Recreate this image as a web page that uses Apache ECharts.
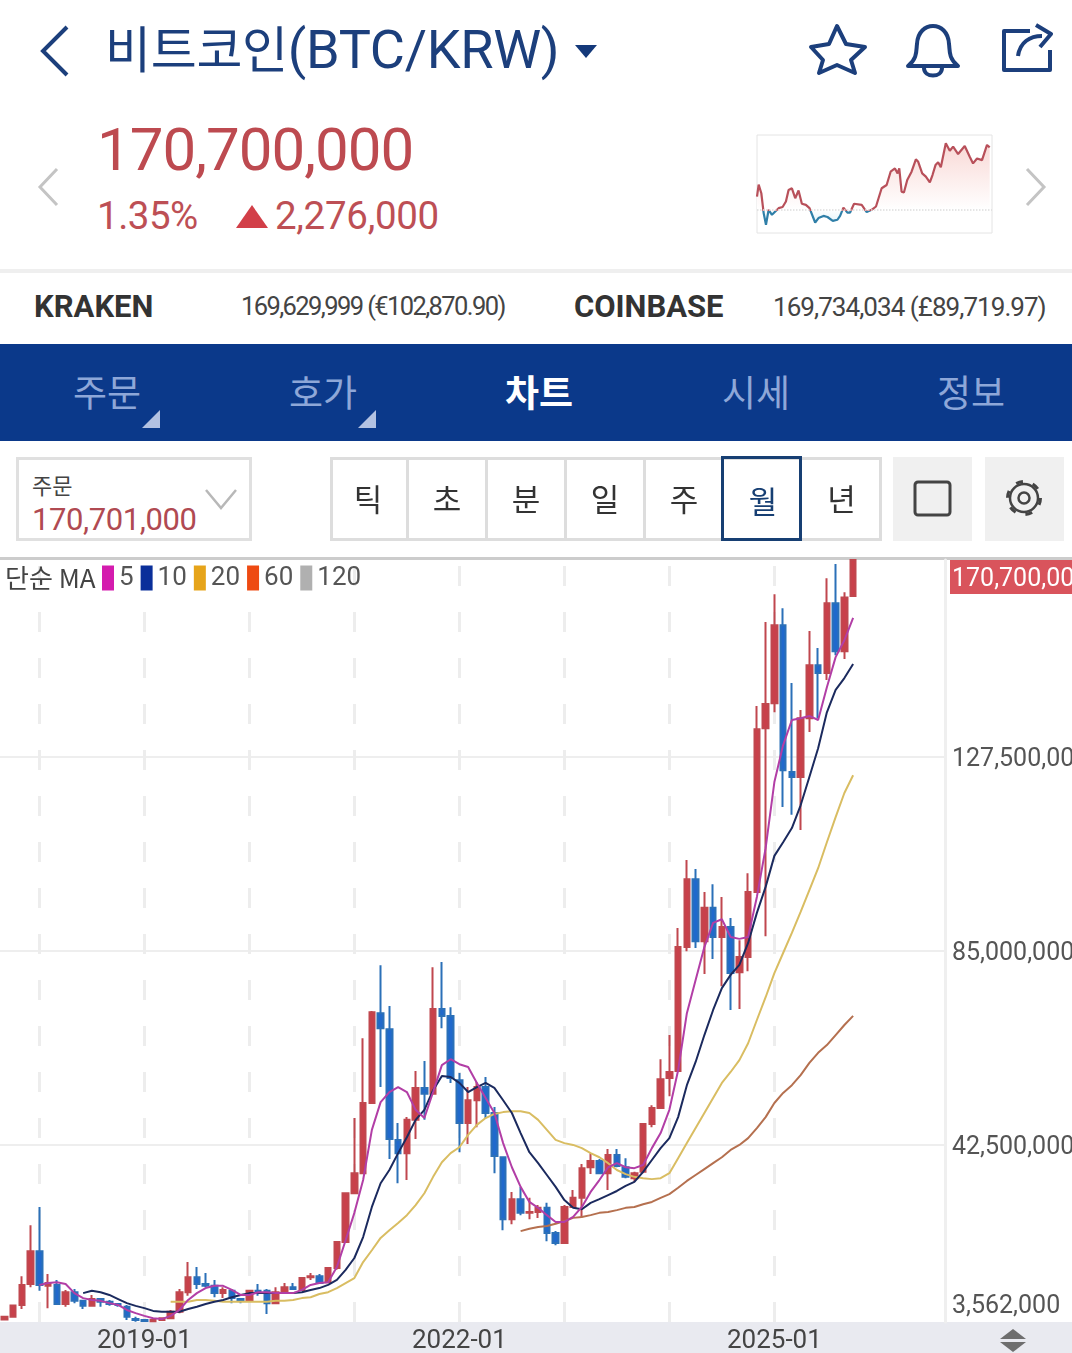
<!DOCTYPE html>
<html>
<head>
<meta charset="utf-8">
<script src="https://cdn.jsdelivr.net/npm/echarts@6/dist/echarts.min.js"></script>
<style>
html,body{margin:0;padding:0;background:#fff;}
body{position:relative;width:1072px;height:1353px;overflow:hidden;font-family:Roboto,"Noto Sans CJK KR",sans-serif;}
.t{position:absolute;white-space:nowrap;line-height:1;}
.box{position:absolute;box-sizing:border-box;}
svg{position:absolute;overflow:visible;}
.tab{position:absolute;top:373px;width:120px;text-align:center;font-size:37px;line-height:1;color:#8ea7d8;font-family:"Noto Sans CJK KR",sans-serif;}
.btn{position:absolute;top:458px;height:82px;box-sizing:border-box;border-right:3px solid #ddd;text-align:center;font-size:31px;line-height:80px;color:#333;font-family:"Noto Sans CJK KR",sans-serif;}
</style>
</head>
<body>
<!-- 상단 헤더 -->
<svg style="left:0;top:0" width="1072" height="270">
  <polyline points="67,27 43,51 67,75" fill="none" stroke="#1c3f7c" stroke-width="4"/>
  <polygon points="575,45 597,45 586,58" fill="#14397a"/>
  <polygon points="837,26 846,44 865,47 851,60 855,73 837,65 819,73 823,60 811,47 829,44" fill="none" stroke="#1c3f7c" stroke-width="4" stroke-linejoin="round"/>
  <path d="M908,66 C918,58 916,50 917,44 C918,20 948,20 949,44 C950,50 948,58 958,66 Z M924,68 C924,78 942,78 942,68" fill="none" stroke="#1c3f7c" stroke-width="4" stroke-linejoin="round"/>
  <path d="M1030,31 L1004,31 L1004,70 L1050,70 L1050,50 M1018,56 C1020,42 1030,36 1042,36 M1036,25 L1051,34 L1040,47" fill="none" stroke="#1c3f7c" stroke-width="4" stroke-linejoin="round"/>
  <polyline points="57,169 40,187 57,205" fill="none" stroke="#c4c4c4" stroke-width="3"/>
  <polyline points="1027,169 1044,187 1027,205" fill="none" stroke="#c4c4c4" stroke-width="3"/>
  <polygon points="236,228 252,205 268,228" fill="#d23f48"/>
</svg>
<div class="t" style="left:105px;top:23px;font-size:50px;color:#1c3f7c;letter-spacing:-.3px;font-family:Roboto,'Noto Sans CJK KR',sans-serif">비트코인<span style="font-size:54px">(BTC/KRW)</span></div>
<div class="t" style="left:97px;top:120px;font-size:60px;color:#bd4a50;letter-spacing:-1px">170,700,000</div>
<div class="t" style="left:97px;top:197px;font-size:38.5px;color:#bd4f55;letter-spacing:-.5px">1.35%</div>
<div class="t" style="left:275px;top:197px;font-size:38.5px;color:#bd4f55;letter-spacing:-.3px">2,276,000</div>
<div id="spark" style="position:absolute;left:750px;top:130px;width:250px;height:110px"></div>

<div class="box" style="left:0;top:269px;width:1072px;height:4px;background:#efefef"></div>
<div class="t" style="left:34px;top:291px;font-size:31px;font-weight:700;color:#333;letter-spacing:0">KRAKEN</div>
<div class="t" style="left:241px;top:294px;font-size:25.5px;color:#444;letter-spacing:-1.6px">169,629,999 (€102,870.90)</div>
<div class="t" style="left:574px;top:291px;font-size:31px;font-weight:700;color:#333;letter-spacing:-.05px">COINBASE</div>
<div class="t" style="left:773px;top:294px;font-size:26px;color:#444;letter-spacing:-.95px">169,734,034 (£89,719.97)</div>

<!-- 탭 -->
<div class="box" style="left:0;top:344px;width:1072px;height:97px;background:#0b398a"></div>
<div class="tab" style="left:47px">주문</div>
<div class="tab" style="left:263px">호가</div>
<div class="tab" style="left:479px;color:#fff;font-weight:700">차트</div>
<div class="tab" style="left:696px">시세</div>
<div class="tab" style="left:911px">정보</div>
<svg style="left:0;top:0" width="1072" height="441">
  <polygon points="142,428 160,428 160,410" fill="#b3c2e2"/>
  <polygon points="358,428 376,428 376,410" fill="#b3c2e2"/>
</svg>

<!-- 주문 선택, 기간 버튼 -->
<div class="box" style="left:16px;top:457px;width:236px;height:84px;border:3px solid #e0e0e0"></div>
<div class="t" style="left:32px;top:473px;font-size:22px;color:#444;font-family:'Noto Sans CJK KR',sans-serif">주문</div>
<div class="t" style="left:32px;top:504px;font-size:31px;color:#b04a52;letter-spacing:-.4px">170,701,000</div>
<svg style="left:0;top:0" width="260" height="540"><polyline points="206,490 221,508 236,490" fill="none" stroke="#b8b8b8" stroke-width="2.5"/></svg>

<div class="box" style="left:330px;top:457px;width:552px;height:84px;border:3px solid #ddd"></div>
<div class="btn" style="left:330px;width:79px">틱</div>
<div class="btn" style="left:409px;width:79px">초</div>
<div class="btn" style="left:488px;width:79px">분</div>
<div class="btn" style="left:567px;width:79px">일</div>
<div class="btn" style="left:646px;width:76px;border-right:none">주</div>
<div class="box" style="left:721px;top:456px;width:81px;height:85px;border:3px solid #173f73;padding-left:3px;text-align:center;font-size:31px;line-height:82px;color:#173f73;font-family:'Noto Sans CJK KR',sans-serif">월</div>
<div class="btn" style="left:802px;width:79px;border-right:none">년</div>
<div class="box" style="left:893px;top:457px;width:79px;height:84px;background:#f0f0f0"></div>
<div class="box" style="left:985px;top:457px;width:79px;height:84px;background:#f0f0f0"></div>
<svg style="left:0;top:0" width="1072" height="540">
  <rect x="915" y="482" width="35" height="33" rx="3" fill="none" stroke="#444" stroke-width="3"/>
  <circle cx="1024" cy="498" r="5.5" fill="none" stroke="#444" stroke-width="2.5"/>
  <circle cx="1024" cy="498" r="14" fill="none" stroke="#444" stroke-width="2.5"/>
  <circle cx="1024" cy="498" r="16.5" fill="none" stroke="#444" stroke-width="3" stroke-dasharray="7 10.28"/>
</svg>

<!-- 차트 -->
<div class="box" style="left:0;top:557px;width:1072px;height:3px;background:#ccc"></div>
<div class="box" style="left:0;top:1322px;width:1072px;height:31px;background:#e9eaf0"></div>
<div id="main" style="position:absolute;left:0;top:558px;width:1072px;height:795px"></div>
<svg style="left:0;top:0" width="1072" height="1353">
  <polygon points="1000,1339 1013,1329 1026,1339" fill="#6e6e6e"/>
  <polygon points="1000,1342 1013,1352 1026,1342" fill="#6e6e6e"/>
</svg>

<script type="text/javascript">
//월봉 카테고리 (2017-09 ~ 빈 구간 포함)
var months = [
  "2017-09","2017-10","2017-11","2017-12",
  "2018-01","2018-02","2018-03","2018-04","2018-05","2018-06","2018-07","2018-08","2018-09","2018-10","2018-11","2018-12",
  "2019-01","2019-02","2019-03","2019-04","2019-05","2019-06","2019-07","2019-08","2019-09","2019-10","2019-11","2019-12",
  "2020-01","2020-02","2020-03","2020-04","2020-05","2020-06","2020-07","2020-08","2020-09","2020-10","2020-11","2020-12",
  "2021-01","2021-02","2021-03","2021-04","2021-05","2021-06","2021-07","2021-08","2021-09","2021-10","2021-11","2021-12",
  "2022-01","2022-02","2022-03","2022-04","2022-05","2022-06","2022-07","2022-08","2022-09","2022-10","2022-11","2022-12",
  "2023-01","2023-02","2023-03","2023-04","2023-05","2023-06","2023-07","2023-08","2023-09","2023-10","2023-11","2023-12",
  "2024-01","2024-02","2024-03","2024-04","2024-05","2024-06","2024-07","2024-08","2024-09","2024-10","2024-11","2024-12",
  "2025-01","2025-02","2025-03","2025-04","2025-05","2025-06","2025-07","2025-08","2025-09","2025-10","2025-11","2025-12",
  "2026-01","2026-02","2026-03","2026-04","2026-05","2026-06","2026-07","2026-08"
];
var yearLabels = ["2019-01","2022-01","2025-01"];
var gridYears = ["2018-01","2019-01","2020-01","2021-01","2022-01","2023-01","2024-01","2025-01"];

//시가, 종가, 저가, 고가 (백만원)
var opens = [4.1,4.7,7.3,11.9,19.1,11.5,11.7,7.5,10.1,8.2,7.1,8.6,8.0,7.5,6.9,4.2,4.0,3.7,4.0,4.4,5.8,10.1,13.4,11.9,11.5,9.9,10.4,8.6,8.2,10.4,10.4,7.7,10.1,11.2,10.6,13.4,13.6,12.3,15.4,21.1,31.8,36.2,51.6,71.3,67.8,43.5,40.6,47.9,54.9,53.6,72.2,70.7,56.6,47.2,52.2,55.1,49.4,39.7,26.1,30.5,27.5,27.7,28.6,23.1,20.9,28.8,30.8,37.5,38.9,36.2,40.2,37.5,35.1,36.5,47.0,50.5,57.1,58.6,85.8,100.7,87.1,94.4,88.0,90.2,80.3,83.6,97.9,133.8,139.3,156.4,124.2,123.1,136.0,147.6,145.9,161.2,150.7,162.8];
var closes = [4.7,7.2,11.7,19.1,11.7,12.1,7.5,10.1,8.2,7.1,8.6,8.0,7.5,7.3,4.7,4.0,3.8,4.0,4.4,5.8,10.1,13.4,11.9,11.5,9.9,10.6,8.8,8.2,10.4,9.9,7.7,10.1,11.2,10.8,13.2,13.6,12.1,15.4,21.1,31.8,36.2,51.6,71.5,68.0,43.7,40.6,47.9,54.9,53.6,72.2,70.7,57.1,47.2,52.2,55.1,49.4,40.0,26.1,30.5,27.5,27.7,28.6,23.1,20.9,28.8,30.8,37.3,38.9,36.2,40.2,37.8,35.4,36.2,47.0,50.5,56.8,58.4,85.8,100.7,87.1,94.4,88.0,90.2,80.1,83.6,97.9,133.6,139.1,156.4,124.6,123.1,136.0,147.6,145.9,161.2,150.7,162.5,170.7];
var lows = [4.1,4.7,6.4,11.2,10.4,6.6,7.3,6.9,7.7,6.4,6.9,6.9,7.1,6.9,4.0,3.6,3.6,3.6,3.8,4.2,5.5,9.3,10.8,11.2,9.0,8.8,7.7,7.7,8.0,9.3,5.3,7.5,9.9,10.6,10.4,12.8,11.9,12.1,15.0,20.9,31.6,36.2,51.6,55.1,39.3,34.0,34.7,43.7,47.9,53.6,68.0,56.0,40.8,42.6,46.3,48.3,36.2,23.7,25.0,27.0,26.1,26.4,21.3,20.4,20.7,28.6,26.6,36.0,36.0,32.5,37.5,35.1,34.3,36.2,46.3,50.5,53.1,58.4,84.9,85.6,79.9,83.2,77.2,72.0,72.2,80.5,97.7,88.2,137.3,116.5,114.8,111.5,133.0,136.0,144.4,149.8,149.0,162.8];
var highs = [4.7,7.2,13.6,24.8,28.8,14.1,12.8,10.6,10.8,8.4,9.5,8.8,8.4,7.7,7.3,4.7,4.2,4.1,4.6,6.2,10.8,16.7,15.6,14.3,12.8,11.2,10.8,8.8,10.6,11.9,10.8,11.2,12.1,12.1,13.4,14.3,14.1,15.6,21.3,32.0,48.3,65.8,71.8,81.8,72.9,47.2,48.5,58.6,60.8,81.4,82.5,72.6,58.2,55.1,56.2,57.3,50.7,39.9,32.1,33.2,30.8,29.2,29.7,23.5,29.2,32.5,38.2,40.6,39.3,41.5,41.5,39.5,36.5,47.2,51.1,61.2,66.5,90.0,104.9,102.9,97.9,99.6,96.8,92.2,87.3,102.0,138.7,157.1,163.2,160.1,143.7,137.8,155.1,151.4,166.7,169.8,163.6,170.7];

//이동평균 (앞쪽 빈 값은 null)
var ma5 = [null,null,null,null,11.7,12.1,12.3,11.9,9.9,8.8,8.4,8.2,7.7,7.3,6.2,5.5,4.9,4.4,4.2,4.9,6.2,8.4,9.9,11.0,11.5,11.5,10.6,9.5,9.5,10.1,10.1,9.9,9.9,9.9,10.6,11.7,12.1,12.3,15.6,21.5,27.5,34.7,45.7,51.8,54.0,55.1,54.0,50.1,48.3,54.0,59.9,61.2,60.1,59.5,56.0,52.7,49.4,42.8,37.5,33.2,29.9,28.6,27.0,25.5,25.5,26.6,28.8,32.1,34.7,37.5,38.4,37.5,37.3,38.0,41.7,45.0,50.1,58.8,71.3,78.6,85.8,91.1,91.9,88.0,87.6,88.0,96.8,107.5,122.0,130.1,135.6,136.0,136.5,135.6,142.8,149.4,153.1,158.0];
var ma10 = [null,null,null,null,null,null,null,null,null,9.9,10.4,10.1,9.5,8.6,7.7,7.1,6.6,6.0,5.8,5.8,5.8,6.4,6.9,7.5,8.0,8.4,9.0,9.5,9.9,9.9,9.9,9.9,9.9,9.9,10.1,10.6,11.0,11.7,12.8,15.0,17.6,22.2,28.8,34.0,36.9,40.6,44.1,47.9,50.1,54.4,57.5,57.3,56.0,54.0,55.1,56.0,54.9,52.2,49.4,45.0,40.8,38.4,35.8,33.2,30.3,28.6,28.3,29.7,30.5,31.4,32.3,33.4,34.3,36.5,39.1,41.7,43.9,48.5,55.5,60.6,66.5,72.0,76.8,79.7,81.9,86.7,93.3,99.0,105.8,108.8,111.9,116.9,123.1,129.4,137.3,142.2,144.8,147.9];
var ma20 = [null,null,null,null,null,null,null,null,null,null,null,null,null,null,null,null,null,null,null,8.0,8.0,8.0,8.4,8.4,8.2,8.0,8.0,8.0,8.0,8.0,8.0,8.2,8.2,8.4,8.8,9.0,9.7,10.1,11.0,12.1,13.2,16.7,19.3,22.0,23.7,25.3,27.0,29.2,31.8,35.4,38.6,40.6,41.9,44.6,46.8,48.3,49.2,49.6,49.8,49.8,49.4,47.9,45.7,43.5,42.8,42.4,41.7,40.6,39.7,38.4,36.9,36.0,35.4,35.1,34.9,35.1,36.2,39.5,42.8,46.1,49.4,52.7,56.0,58.4,61.0,64.7,69.8,74.8,80.1,84.5,88.9,93.5,98.3,103.1,108.8,114.3,119.6,123.5];
var ma60 = [null,null,null,null,null,null,null,null,null,null,null,null,null,null,null,null,null,null,null,null,null,null,null,null,null,null,null,null,null,null,null,null,null,null,null,null,null,null,null,null,null,null,null,null,null,null,null,null,null,null,null,null,null,null,null,null,null,null,null,23.5,24.0,24.4,24.6,25.1,25.7,26.4,26.6,27.0,27.5,27.7,28.1,28.6,28.8,29.4,29.9,30.8,31.6,33.0,34.5,35.8,37.1,38.4,39.7,41.3,42.4,43.9,46.1,48.5,51.6,53.8,55.5,57.7,60.4,62.6,64.3,66.5,68.7,70.7];

//축 눈금
var tickValues = [3.562,42.5,85,127.5,170.7];
var tickLabels = ["3,562,000","42,500,000","85,000,000","127,500,000","170,700,000"];

//미니 차트 (시간 순번, 가격 백만원)
var sparkTimes = [0,5,13,20,27,35,45,55,65,77,87,95,105,115,125,135,147,158,175,185,200,212,228,242,250,260,272,280,292,315,330,345,358,375,390,402,415,423,428,435,442,452,465,478,485,497,508,520,528,537,545,553,568,580,590,605,625,640,650,662,677,692,700];
var sparkPrices = [168.90,169.33,169.02,168.30,167.88,168.42,168.24,168.36,168.48,168.52,168.72,169.14,169.20,168.84,169.12,168.64,168.60,168.48,167.96,168.12,168.20,168.16,168.02,168.06,168.20,168.50,168.32,168.32,168.64,168.60,168.34,168.42,168.54,169.20,169.32,169.80,169.92,169.74,169.92,169.08,169.05,169.50,169.80,170.25,170.16,169.74,169.62,169.41,169.68,170.04,170.14,169.96,170.83,170.56,170.71,170.44,170.73,170.34,170.10,170.28,170.22,170.77,170.68];
var prevClose = 168.424;

var candleData = [];
for (var i = 0; i < opens.length; i++) {
	candleData.push([opens[i], closes[i], lows[i], highs[i]]);
}

function maSeries(name, data, color) {
	return {
		name: name, type: 'line', data: data, color: color,
		symbol: 'none', connectNulls: false, silent: true, z: 5,
		lineStyle: { color: color, width: 2 }
	};
}

var mainChart = echarts.init(document.getElementById('main'));
mainChart.setOption({
	animation: false,
	title: {
		text: '단순 MA', left: 5, top: 7, padding: 0,
		textStyle: { fontFamily: "'Noto Sans CJK KR',Roboto,sans-serif", fontSize: 26, fontWeight: 'normal', color: '#444' }
	},
	legend: {
		left: 102, top: 7, padding: 0, icon: 'rect', itemWidth: 12, itemHeight: 25, itemGap: 7,
		selectedMode: false,
		textStyle: { fontFamily: 'Roboto,sans-serif', fontSize: 26, color: '#555', padding: [5, 0, 0, 0] },
		data: [
			{ name: '5', itemStyle: { color: '#d41cae' } },
			{ name: '10', itemStyle: { color: '#0a2f9a' } },
			{ name: '20', itemStyle: { color: '#e6a41a' } },
			{ name: '60', itemStyle: { color: '#ee4a12' } },
			{ name: '120', itemStyle: { color: '#b0b0b0' } }
		]
	},
	grid: { left: 0, right: 127, top: 2, bottom: 31, outerBoundsMode: 'none' },
	xAxis: {
		type: 'category', data: months, boundaryGap: true,
		axisLine: { show: false }, axisTick: { show: false },
		axisLabel: {
			interval: function (idx, val) { return yearLabels.indexOf(val) >= 0; },
			fontFamily: 'Roboto,sans-serif', fontSize: 26, color: '#444', margin: 6
		},
		splitLine: { show: false }
	},
	yAxis: {
		type: 'value', position: 'right', min: tickValues[0], max: tickValues[4], scale: true,
		axisLine: { show: true, lineStyle: { color: '#efefef', width: 3 } },
		axisTick: { show: false, customValues: tickValues },
		splitLine: { show: true, showMinLine: false, showMaxLine: false, lineStyle: { color: '#eeeeee', width: 2 } },
		axisLabel: {
			customValues: tickValues,
			margin: 5,
			verticalAlignMinLabel: 'bottom',
			verticalAlignMaxLabel: 'top',
			fontFamily: 'Roboto,sans-serif', fontSize: 25, color: '#555',
			formatter: function (v) {
				var s = tickLabels[tickValues.indexOf(v)];
				if (v === tickValues[4]) return '{tag|' + s + '}';
				if (v === tickValues[0]) return '{low|' + s + '}';
				return '{mid|' + s + '}';
			},
			rich: {
				tag: { backgroundColor: '#d9545c', color: '#fff', fontSize: 25, fontFamily: 'Roboto,sans-serif', padding: [7, 10, 2, 2] },
				mid: { color: '#555', fontSize: 25, fontFamily: 'Roboto,sans-serif', padding: [6, 0, 0, 2] },
				low: { color: '#555', fontSize: 25, fontFamily: 'Roboto,sans-serif', padding: [0, 0, 3, 2] }
			}
		}
	},
	series: [
		{
			type: 'candlestick', name: 'BTC', data: candleData, barWidth: 6, silent: true,
			itemStyle: { color: '#c9404a', color0: '#2069cc', borderColor: '#c0474e', borderColor0: '#2b70b8', borderWidth: 2 },
			markLine: {
				silent: true, symbol: 'none', label: { show: false }, z: 0,
				lineStyle: { color: '#ededed', type: [20, 26], width: 3 },
				data: gridYears.map(function (m) { return { xAxis: m }; })
			}
		},
		maSeries('60', ma60, '#b5704f'),
		maSeries('20', ma20, '#d9bd62'),
		maSeries('10', ma10, '#1b2a5e'),
		maSeries('5', ma5, '#b23ea6'),
		maSeries('120', [], '#b0b0b0')
	]
});

//미니 차트
var sparkChart = echarts.init(document.getElementById('spark'));
var sparkPoints = sparkTimes.map(function (t, i) { return [t, sparkPrices[i]]; });
var sparkMax = Math.max.apply(null, sparkPrices);
var sparkMin = Math.min.apply(null, sparkPrices);
var baseStop = (sparkMax - prevClose) / (sparkMax - sparkMin);
sparkChart.setOption({
	animation: false,
	grid: { left: 7, right: 8, top: 5, bottom: 7, show: true, borderColor: '#e4e4e4', borderWidth: 1, outerBoundsMode: 'none' },
	xAxis: { type: 'value', min: 0, max: 707, show: false },
	yAxis: { type: 'value', min: 167.58, max: 171.13, show: false, scale: true },
	series: [{
		type: 'line', data: sparkPoints, symbol: 'none', silent: true,
		lineStyle: {
			width: 2.2,
			color: new echarts.graphic.LinearGradient(0, 0, 0, 1, [
				{ offset: 0, color: '#b8505a' },
				{ offset: baseStop, color: '#b8505a' },
				{ offset: baseStop, color: '#2f7fa8' },
				{ offset: 1, color: '#2f7fa8' }
			])
		},
		areaStyle: {
			origin: prevClose,
			opacity: 1,
			color: new echarts.graphic.LinearGradient(0, 0, 0, 1, [
				{ offset: 0, color: '#f9d9d6' },
				{ offset: baseStop, color: '#ffffff' },
				{ offset: 1, color: '#dff1f7' }
			])
		},
		markLine: {
			silent: true, symbol: 'none', label: { show: false },
			lineStyle: { color: '#dddddd', type: 'dotted', width: 1.5 },
			data: [{ yAxis: prevClose }]
		}
	}]
});
</script>
</body>
</html>
